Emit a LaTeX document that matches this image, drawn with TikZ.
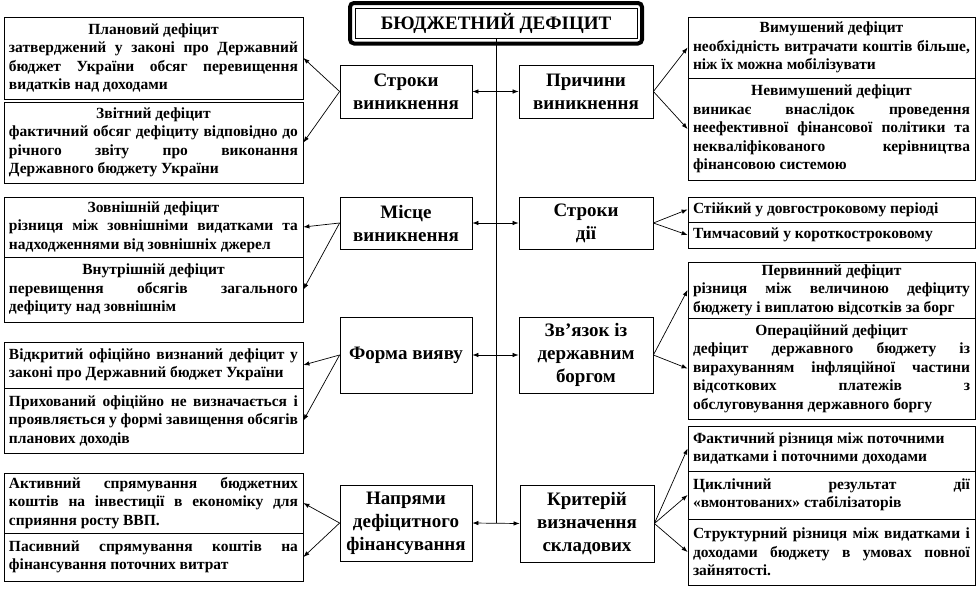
\documentclass[tikz,border=0pt]{standalone}
\usepackage{fontspec}
\setmainfont{Liberation Serif}
\usetikzlibrary{arrows.meta,calc}
\setlength{\parindent}{0pt}
\setlength{\parskip}{0pt}
\newcommand{\bodyfnt}{\fontsize{15.5}{18.5}\selectfont\bfseries}
\newcommand{\midfnt}{\fontsize{19}{23}\selectfont\bfseries}
\newcommand{\hd}[1]{{\centering #1\par}}
\begin{document}
\begin{tikzpicture}[x=1pt,y=-1pt,
  box/.style={draw, line width=0.8pt, inner xsep=5pt, inner ysep=0pt, align=justify, font=\bodyfnt},
  lbox/.style={box, text width=289pt},
  rbox/.style={box, text width=277pt},
  cbox/.style={draw, line width=0.8pt, align=center, font=\midfnt, inner sep=2pt},
  cl/.style={cbox, minimum width=132pt},
  cr/.style={cbox, minimum width=134pt},
  arr/.style={line width=0.7pt, -{Latex[length=6pt,width=4.5pt]}},
  darr/.style={line width=0.7pt, {Latex[length=6pt,width=4.5pt]}-{Latex[length=6pt,width=4.5pt]}}]
\useasboundingbox (0,0) rectangle (978,589);

% title
\node[draw, line width=1pt, font=\midfnt, minimum width=282pt, minimum height=30.5pt, inner sep=0pt] (title) at (496,23.25) {БЮДЖЕТНИЙ ДЕФІЦИТ};
\draw[line width=4pt, rounded corners=4pt] ($(title.north west)+(-4.5,-4.5)$) rectangle ($(title.south east)+(4.5,4.5)$);

% centre boxes
\node[cl, minimum height=53pt] (sv) at (406,91.5) {Строки\\виникнення};
\node[cr, minimum height=53pt] (pv) at (586,91.5) {Причини\\виникнення};
\node[cl, minimum height=52pt] (mv) at (406,223) {Місце\\виникнення};
\node[cr, minimum height=52pt] (sd) at (586,223) {Строки\\дії};
\node[cl, minimum height=76pt] (fv) at (406,355) {Форма вияву};
\node[cr, minimum height=76pt] (zb) at (586,355) {Зв'язок із\\державним\\боргом};
\node[cl, minimum height=76pt] (nf) at (406,523) {Напрями\\дефіцитного\\фінансування};
\node[cr, minimum height=77pt] (kv) at (587,523.5) {Критерій\\визначення\\складових};

% spine
\draw[line width=0.8pt] (title.south) -- (title.south |- nf.east);

% left boxes
\node[lbox, minimum height=82pt] (plan) at (153.5,58) {\hd{Плановий дефіцит}затверджений у законі про Державний\linebreak бюджет України обсяг перевищення\linebreak видатків над доходами};
\node[lbox, minimum height=81pt] (zvit) at (153.5,142.5) {\hd{Звітний дефіцит}фактичний обсяг дефіциту відповідно до\linebreak річного звіту про виконання\linebreak Державного бюджету України};
\node[lbox, minimum height=60pt] (zovn) at (153.5,227) {\hd{Зовнішній дефіцит}різниця між зовнішніми видатками та\linebreak надходженнями від зовнішніх джерел};
\node[lbox, minimum height=65pt] (vnut) at (153.5,289.5) {\hd{Внутрішній дефіцит}перевищення обсягів загального\linebreak дефіциту над зовнішнім};
\node[lbox, minimum height=46pt] (vidk) at (153.5,365) {Відкритий офіційно визнаний дефіцит у\linebreak законі про Державний бюджет України};
\node[lbox, minimum height=65pt] (prykh) at (153.5,420.5) {Прихований офіційно не визначається і\linebreak проявляється у формі завищення обсягів\linebreak планових доходів};
\node[lbox, minimum height=60pt] (akt) at (153.5,503) {Активний спрямування бюджетних\linebreak коштів на інвестиції в економіку для\linebreak сприяння росту ВВП.};
\node[lbox, minimum height=48pt] (pas) at (153.5,557) {Пасивний спрямування коштів на\linebreak фінансування поточних витрат};

% right boxes
\node[rbox, minimum height=61pt] (vym) at (831.5,47.5) {\hd{Вимушений дефіцит}необхідність витрачати коштів більше,\linebreak ніж їх можна мобілізувати};
\node[rbox, minimum height=102pt] (nevym) at (831.5,129) {\hd{Невимушений дефіцит}виникає внаслідок проведення\linebreak неефективної фінансової політики та\linebreak некваліфікованого керівництва\linebreak фінансовою системою};
\node[rbox, minimum height=25pt] (stiy) at (831.5,209.5) {Стійкий у довгостроковому періоді};
\node[rbox, minimum height=26pt] (tymch) at (831.5,235) {Тимчасовий у короткостроковому};
\node[rbox, minimum height=56pt] (perv) at (831.5,290) {\hd{Первинний дефіцит}різниця між величиною дефіциту\linebreak бюджету і виплатою відсотків за борг};
\node[rbox, minimum height=101pt] (oper) at (831.5,368.5) {\hd{Операційний дефіцит}дефіцит державного бюджету із\linebreak вирахуванням інфляційної частини\linebreak відсоткових платежів з\linebreak обслуговування державного боргу};
\node[rbox, minimum height=45pt] (fakt) at (831.5,448.5) {Фактичний різниця між поточними\newline видатками і поточними доходами};
\node[rbox, minimum height=48pt] (tsykl) at (831.5,495) {Циклічний результат дії\linebreak «вмонтованих» стабілізаторів};
\node[rbox, minimum height=66pt] (struk) at (831.5,552) {Структурний різниця між видатками і\linebreak доходами бюджету в умовах повної\linebreak зайнятості.};

% connectors
\draw[darr] (sv.east) -- (pv.west);
\draw[darr] (mv.east) -- (sd.west);
\draw[darr] (fv.east) -- (zb.west);
\draw[darr] (nf.east) -- (kv.west);

\draw[arr] (sv.west) -- (plan.east);
\draw[arr] (sv.west) -- (zvit.east);
\draw[arr] (mv.west) -- (zovn.east);
\draw[arr] (mv.west) -- (vnut.east);
\draw[arr] (fv.west) -- (vidk.east);
\draw[arr] (fv.west) -- (prykh.east);
\draw[arr] (nf.west) -- (akt.east);
\draw[arr] (nf.west) -- (pas.east);

\draw[arr] (pv.east) -- (vym.west);
\draw[arr] (pv.east) -- (nevym.west);
\draw[arr] (sd.east) -- (stiy.west);
\draw[arr] (sd.east) -- (tymch.west);
\draw[arr] (zb.east) -- (perv.west);
\draw[arr] (zb.east) -- (oper.west);
\draw[arr] (kv.east) -- (fakt.west);
\draw[arr] (kv.east) -- (tsykl.west);
\draw[arr] (kv.east) -- (struk.west);
\end{tikzpicture}
\end{document}
